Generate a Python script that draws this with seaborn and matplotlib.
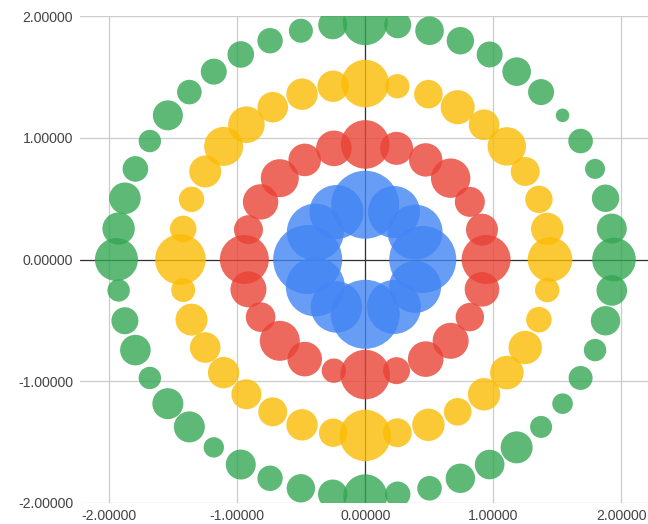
import numpy as np
import pandas as pd
import matplotlib
matplotlib.use("Agg")
import matplotlib.pyplot as plt
import seaborn as sns

# ---------------- data ----------------
green_x = [1.945, 1.928, 1.879, 1.797, 1.684, 1.543, 1.375, 1.184, 0.973, 0.744, 0.503, 0.254,
           0.0, -0.254, -0.503, -0.744, -0.973, -1.184, -1.375, -1.543, -1.684, -1.797, -1.879, -1.928,
           -1.945, -1.928, -1.879, -1.797, -1.684, -1.543, -1.375, -1.184, -0.973, -0.744, -0.503, -0.254,
           0.0, 0.254, 0.503, 0.744, 0.973, 1.184, 1.375, 1.543, 1.684, 1.797, 1.879, 1.928]
green_y = [0.0, 0.254, 0.503, 0.744, 0.973, 1.184, 1.375, 1.543, 1.684, 1.797, 1.879, 1.928,
           1.945, 1.928, 1.879, 1.797, 1.684, 1.543, 1.375, 1.184, 0.973, 0.744, 0.503, 0.254,
           0.0, -0.254, -0.503, -0.744, -0.973, -1.184, -1.375, -1.543, -1.684, -1.797, -1.879, -1.928,
           -1.945, -1.928, -1.879, -1.797, -1.684, -1.543, -1.375, -1.184, -0.973, -0.744, -0.503, -0.254]
green_v = [21.8, 15.0, 13.7, 10.0, 12.3, 6.8, 13.0, 14.3, 13.0, 13.7, 14.3, 13.5,
           22.5, 14.5, 12.0, 12.7, 13.3, 13.0, 12.3, 15.0, 11.2, 12.8, 15.8, 16.2,
           21.5, 11.2, 13.5, 15.3, 11.2, 15.5, 15.5, 10.2, 15.0, 12.7, 14.2, 14.7,
           22.0, 12.7, 12.3, 14.7, 14.8, 16.0, 11.0, 10.3, 12.0, 11.2, 14.7, 15.3]

yellow_x = [1.445, 1.423, 1.358, 1.251, 1.107, 0.929, 0.723, 0.494, 0.251,
            0.0, -0.251, -0.494, -0.723, -0.929, -1.107, -1.251, -1.358, -1.423,
            -1.445, -1.423, -1.358, -1.251, -1.107, -0.929, -0.723, -0.494, -0.251,
            0.0, 0.251, 0.494, 0.723, 0.929, 1.107, 1.251, 1.358, 1.423]
yellow_y = [0.0, 0.251, 0.494, 0.723, 0.929, 1.107, 1.251, 1.358, 1.423,
            1.445, 1.423, 1.358, 1.251, 1.107, 0.929, 0.723, 0.494, 0.251,
            0.0, -0.251, -0.494, -0.723, -0.929, -1.107, -1.251, -1.358, -1.423,
            -1.445, -1.423, -1.358, -1.251, -1.107, -0.929, -0.723, -0.494, -0.251]
yellow_v = [22.3, 16.2, 13.7, 14.5, 19.2, 15.3, 17.0, 14.3, 12.2,
            23.8, 15.7, 15.7, 15.3, 18.3, 19.5, 16.0, 12.7, 13.3,
            25.3, 12.0, 16.0, 15.3, 15.7, 15.0, 14.5, 15.7, 14.2,
            25.7, 14.4, 16.2, 13.8, 16.2, 16.8, 16.7, 12.8, 12.2]

red_x = [0.945, 0.913, 0.818, 0.668, 0.473, 0.245, 0.0, -0.245, -0.473, -0.668, -0.818, -0.913,
         -0.945, -0.913, -0.818, -0.668, -0.473, -0.245, 0.0, 0.245, 0.473, 0.668, 0.818, 0.913]
red_y = [0.0, 0.245, 0.473, 0.668, 0.818, 0.913, 0.945, 0.913, 0.818, 0.668, 0.473, 0.245,
         0.0, -0.245, -0.473, -0.668, -0.818, -0.913, -0.945, -0.913, -0.818, -0.668, -0.473, -0.245]
red_v = [24.5, 16.0, 15.0, 19.7, 16.7, 16.5, 24.3, 17.8, 16.3, 19.0, 17.7, 14.5,
         24.5, 18.0, 14.8, 20.0, 17.3, 12.2, 24.8, 13.5, 17.8, 18.0, 14.2, 17.3]

blue_x = [0.45, 0.39, 0.225, 0.0, -0.225, -0.39, -0.45, -0.39, -0.225, 0.0, 0.225, 0.39]
blue_y = [0.0, 0.225, 0.39, 0.45, 0.39, 0.225, 0.0, -0.225, -0.39, -0.45, -0.39, -0.225]
blue_v = [33.5, 27.5, 26.0, 34.0, 27.0, 28.5, 34.5, 29.5, 25.7, 34.5, 27.0, 26.0]

tick_values = [-2, -1, 0, 1, 2]

# ---------------- build table ----------------
frames = []
for name, xs, ys, vs in [("green", green_x, green_y, green_v),
                         ("yellow", yellow_x, yellow_y, yellow_v),
                         ("red", red_x, red_y, red_v),
                         ("blue", blue_x, blue_y, blue_v)]:
    frames.append(pd.DataFrame({"x": xs, "y": ys, "value": vs, "ring": name}))
df = pd.concat(frames, ignore_index=True)

DPI = 100
W, H = 648, 524
# bubble radius scale (linear in value, pixels) -> marker area in pt^2
vmin, vmax = df["value"].min(), df["value"].max()
rmin, rmax = 6.8, 34.5
radius_px = rmin + (df["value"] - vmin) / (vmax - vmin) * (rmax - rmin)
df["area"] = (2 * radius_px * 72.0 / DPI) ** 2
# Google draws bigger bubbles first
df = df.sort_values("area", ascending=False, kind="stable")

palette = {"blue": "#4285F4", "red": "#EA4335", "yellow": "#FBBC04", "green": "#34A853"}

sns.set_theme(style="white")
plt.rcParams["font.family"] = ["Liberation Sans", "DejaVu Sans"]

fig = plt.figure(figsize=(W / DPI, H / DPI), dpi=DPI)
ax = fig.add_axes([80 / W, 21 / H, 568 / W, 487 / H])

amin, amax = df["area"].min(), df["area"].max()
sns.scatterplot(data=df, x="x", y="y", hue="ring", palette=palette,
                size="area", sizes=(amin, amax), size_norm=(amin, amax),
                alpha=0.8, linewidth=0, legend=False, ax=ax, zorder=3)

ax.set_xlim(-2.230, 2.211)
ax.set_ylim(-2, 2)
ax.set_xticks(tick_values)
ax.set_yticks(tick_values)
ax.set_xticklabels([f"{v:.5f}" for v in tick_values])
ax.set_yticklabels([f"{v:.5f}" for v in tick_values])
ax.set_xlabel("")
ax.set_ylabel("")
for s in ax.spines.values():
    s.set_visible(False)
ax.grid(True, color="#cccccc", linewidth=0.9, zorder=0)
ax.set_axisbelow(True)
ax.axhline(0, color="#333333", linewidth=0.9, zorder=1)
ax.axvline(0, color="#333333", linewidth=0.9, zorder=1)
ax.tick_params(axis="both", length=0, labelsize=10.1, labelcolor="#444444")
ax.tick_params(axis="y", pad=5)
ax.tick_params(axis="x", pad=4.5)

fig.savefig("out.png", dpi=DPI)
